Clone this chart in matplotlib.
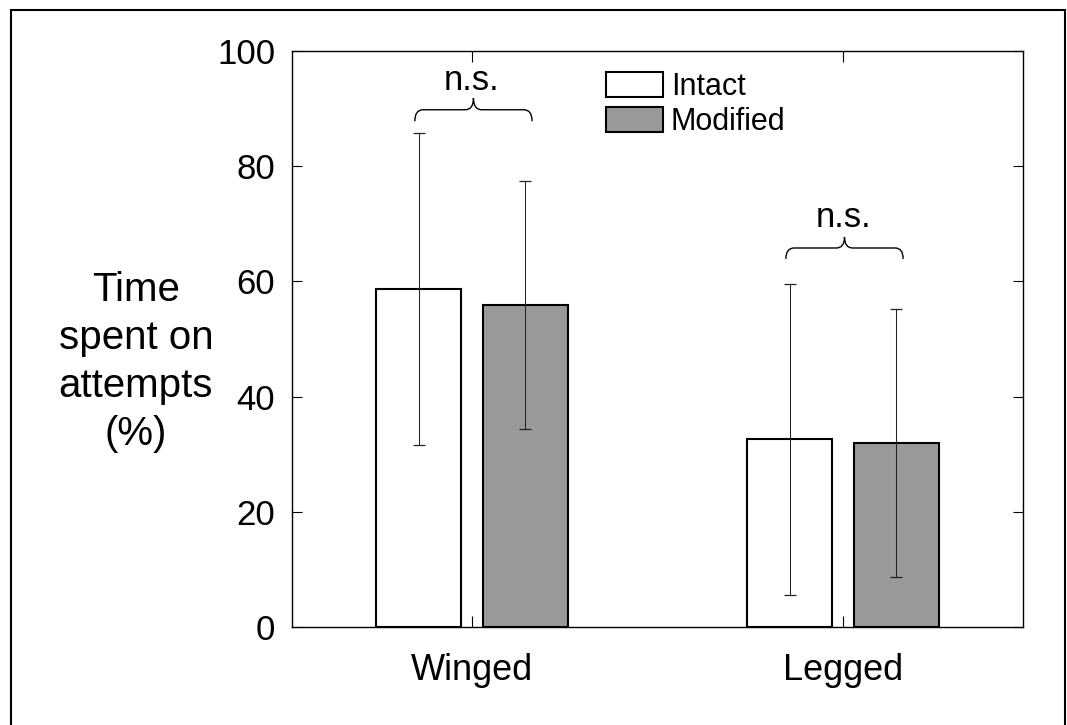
import matplotlib
matplotlib.use("Agg")
import matplotlib.pyplot as plt
import numpy as np
from matplotlib.path import Path
from matplotlib.patches import PathPatch, Rectangle

plt.rcParams['font.family'] = ['Liberation Sans', 'DejaVu Sans']

categories = ["Winged", "Legged"]
series_names = ["Intact", "Modified"]
intact_mean = [58.7, 32.6]
intact_sd = [27.1, 27.0]
modified_mean = [55.9, 31.9]
modified_sd = [21.5, 23.3]
yticks = [0, 20, 40, 60, 80, 100]
sig_labels = ["n.s.", "n.s."]

W, H = 1067, 725
fig = plt.figure(figsize=(W / 100, H / 100), dpi=100)
ax = fig.add_axes([292 / W, (H - 627) / H, (1023 - 292) / W, (627 - 51) / H])

x = np.arange(1, len(categories) + 1)
bw = 0.229
off = 0.143
ax.bar(x - off, intact_mean, bw, color='white', edgecolor='black', linewidth=1.5, label=series_names[0], zorder=2)
ax.bar(x + off, modified_mean, bw, color='#999999', edgecolor='black', linewidth=1.5, label=series_names[1], zorder=2)
ax.errorbar(x - off, intact_mean, yerr=intact_sd, fmt='none', ecolor='#222222', elinewidth=0.75, capsize=4.3, capthick=0.9, zorder=3)
ax.errorbar(x + off, modified_mean, yerr=modified_sd, fmt='none', ecolor='#222222', elinewidth=0.75, capsize=4.3, capthick=0.9, zorder=3)

ax.set_xlim(1 - 0.485, 2 + 0.485)
ax.set_ylim(0, 100)
ax.set_yticks(yticks)
ax.set_xticks(x)
ax.set_xticklabels(categories)
ax.tick_params(axis='y', direction='in', length=7, width=0.8, labelsize=25, pad=12, right=True)
ax.tick_params(axis='x', direction='in', length=8, width=0.8, labelsize=26, pad=19, top=True)
for s in ax.spines.values():
    s.set_linewidth(1.0)

# braces
def brace(ax, xl, xr, yb, yl, yp, dx=0.022):
    xc = (xl + xr) / 2
    verts = [(xl, yb), (xl, yl), (xl + dx, yl),
             (xc - dx, yl), (xc, yl), (xc, yp),
             (xc, yl), (xc + dx, yl),
             (xr - dx, yl), (xr, yl), (xr, yb)]
    codes = [Path.MOVETO, Path.CURVE3, Path.CURVE3,
             Path.LINETO, Path.CURVE3, Path.CURVE3,
             Path.CURVE3, Path.CURVE3,
             Path.LINETO, Path.CURVE3, Path.CURVE3]
    ax.add_patch(PathPatch(Path(verts, codes), fill=False, lw=1.0, edgecolor='black', clip_on=False))

brace_levels = [(87.8, 89.8, 91.8, 93.2), (63.9, 65.8, 67.7, 69.4)]
for xi, (yb, yl, yp, yt), lab in zip(x, brace_levels, sig_labels):
    brace(ax, xi - 0.154, xi + 0.162, yb, yl, yp)
    ax.text(xi, yt, lab, ha='center', va='baseline', fontsize=25)

leg = ax.legend(loc='upper left', bbox_to_anchor=(606 / W, (H - 72) / H), bbox_transform=fig.transFigure,
                frameon=False, fontsize=22, handlelength=1.87, handleheight=0.89,
                handletextpad=0.25, labelspacing=0.15, borderpad=0, borderaxespad=0)

fig.text(136 / W, (H - 362) / H, "Time\nspent on\nattempts\n(%)", ha='center', va='center',
         multialignment='center', fontsize=29, linespacing=1.33)

# figure border
fig.patches.append(Rectangle((11 / W, -0.1), (1065 - 11) / W, 0.1 + (H - 10) / H,
                             transform=fig.transFigure, fill=False, edgecolor='black', lw=1.5, clip_on=False))

fig.savefig("out.png", dpi=100)
